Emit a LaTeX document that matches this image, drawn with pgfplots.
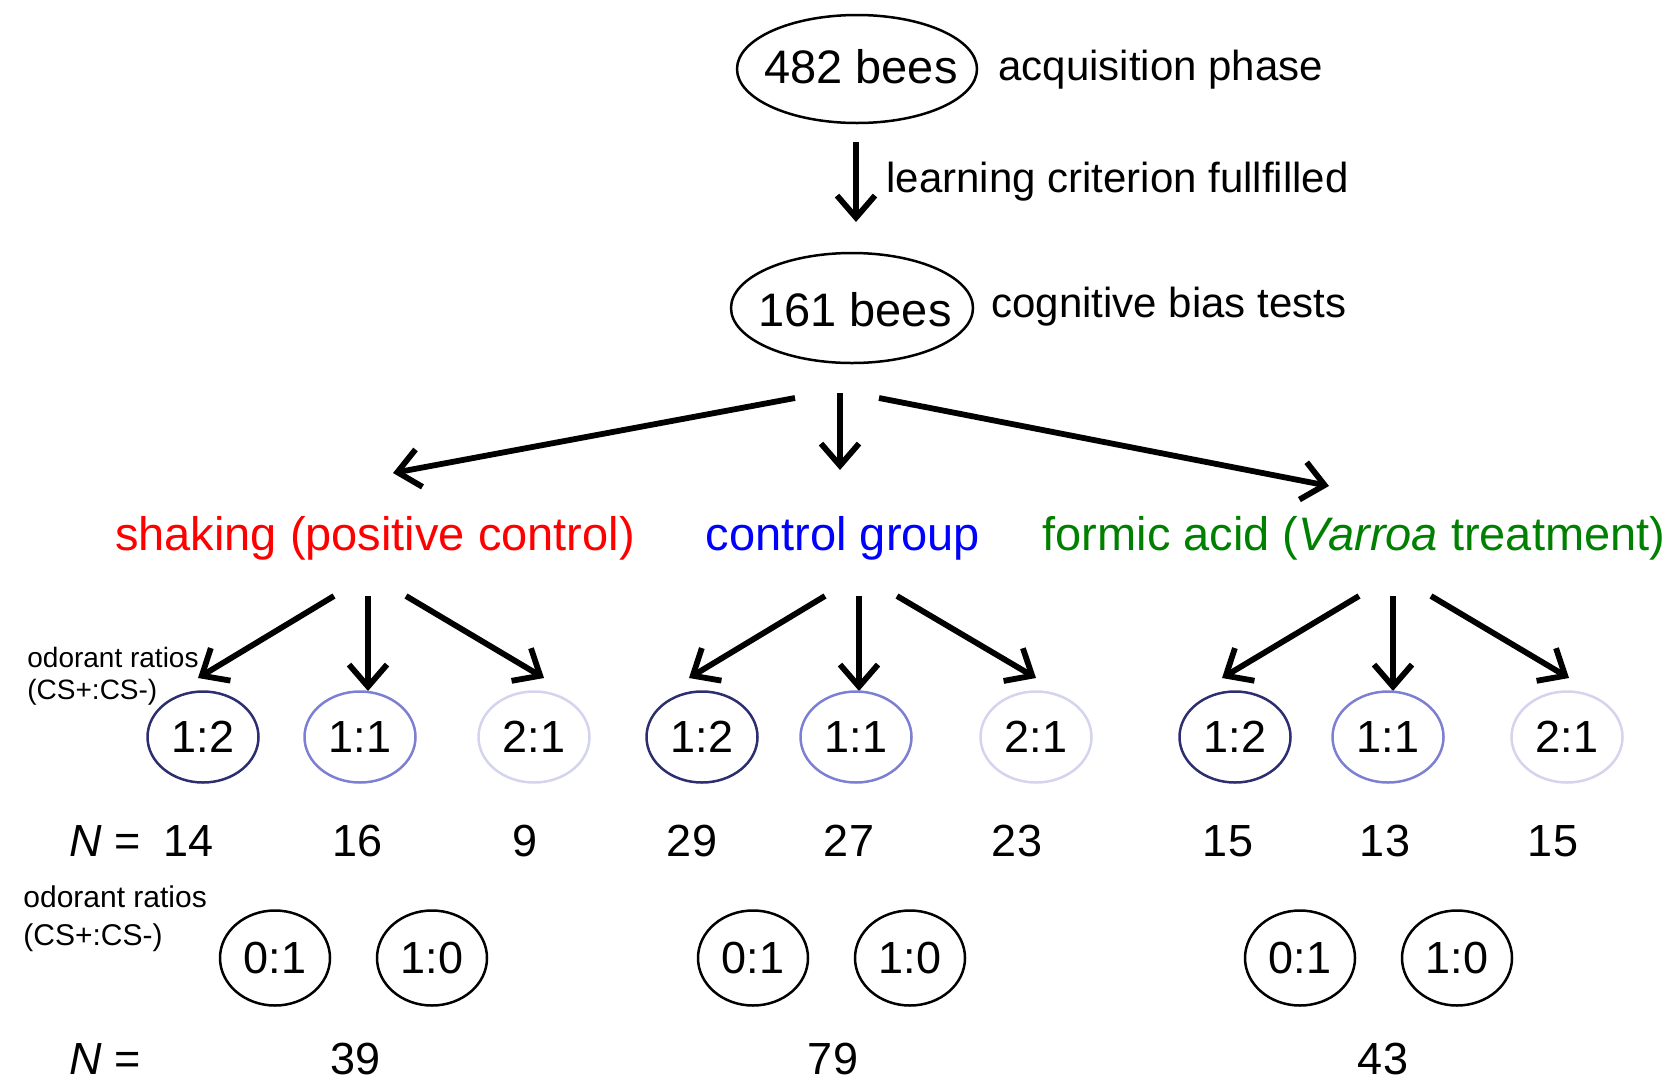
\documentclass[border=0pt]{standalone}
\usepackage{pgfplots}
\pgfplotsset{compat=1.18}
\usepackage{fontspec}
\setmainfont{Liberation Sans}
\usetikzlibrary{shapes.geometric,arrows.meta}
\definecolor{navy}{RGB}{44,46,112}
\definecolor{midblue}{RGB}{125,128,210}
\definecolor{lightblue}{RGB}{212,212,238}
\definecolor{cred}{RGB}{255,0,0}
\definecolor{cblue}{RGB}{0,0,255}
\definecolor{cgreen}{RGB}{0,128,0}
\tikzset{
  arr/.style={line width=2.9pt, -{Straight Barb[length=11pt,width=19pt]}},
  big/.style={font=\fontsize{23.5}{28}\selectfont},
  mid/.style={font=\fontsize{21}{25}\selectfont},
  el/.style={draw, ellipse, line width=1.25pt, inner sep=0pt, outer sep=0pt},
  rat/.style={el, minimum width=55.5pt, minimum height=45.5pt, font=\fontsize{22.5}{26}\selectfont},
  rat2/.style={el, minimum width=55pt, minimum height=47.5pt, font=\fontsize{22.5}{26}\selectfont},
  num/.style={anchor=base, inner sep=0pt, font=\fontsize{22.5}{26}\selectfont},
}
\begin{document}
\begin{tikzpicture}
\begin{axis}[x=0.5pt, y=0.5pt, y dir=reverse, xmin=0, xmax=1674, ymin=0, ymax=1082,
  hide axis, clip=false, scale only axis]
% top part
\node[el, minimum width=120pt, minimum height=54pt] at (axis cs:857,69) {};
\node[big, inner sep=0pt] at (axis cs:861,67) {482 bees};
\node[mid, anchor=base west, inner sep=0pt] at (axis cs:998,80) {acquisition phase};
\addplot[arr] coordinates {(856,142) (856,222)};
\node[mid, anchor=base west, inner sep=0pt] at (axis cs:886,192) {learning criterion fullfilled};
\node[el, minimum width=121pt, minimum height=55pt] at (axis cs:852,308) {};
\node[big, inner sep=0pt] at (axis cs:855,310) {161 bees};
\node[mid, anchor=base west, inner sep=0pt] at (axis cs:991,317) {cognitive bias tests};
% splits to groups
\addplot[arr] coordinates {(795,398) (393,473)};
\addplot[arr] coordinates {(840,393) (840,470)};
\addplot[arr] coordinates {(879,398) (1329,486)};
% group labels
\node[big, anchor=base, inner sep=0pt, text=cred] at (axis cs:375,550) {shaking (positive control)};
\node[big, anchor=base, inner sep=0pt, text=cblue] at (axis cs:843,550) {control group};
\node[big, anchor=base, inner sep=0pt, text=cgreen] at (axis cs:1354,550) {formic acid (\textit{Varroa} treatment)};
% arrows to ratios
\addplot[arr] coordinates {(334,596) (198,678)};
\addplot[arr] coordinates {(368,596) (368,691)};
\addplot[arr] coordinates {(406,596) (544,678)};
\addplot[arr] coordinates {(825,596) (689,678)};
\addplot[arr] coordinates {(859,596) (859,691)};
\addplot[arr] coordinates {(897,596) (1036,678)};
\addplot[arr] coordinates {(1359,596) (1222,678)};
\addplot[arr] coordinates {(1393,596) (1393,691)};
\addplot[arr] coordinates {(1431,596) (1569,678)};
% odorant ratios label 1
\node[anchor=base west, inner sep=0pt, font=\fontsize{14}{16}\selectfont] at (axis cs:27,667) {odorant ratios};
\node[anchor=base west, inner sep=0pt, font=\fontsize{14}{16}\selectfont] at (axis cs:27,699) {(CS+:CS-)};
% ratio ellipses row 1
\node[rat, draw=navy] at (axis cs:203,737) {1:2};
\node[rat, draw=midblue] at (axis cs:360,737) {1:1};
\node[rat, draw=lightblue] at (axis cs:534,737) {2:1};
\node[rat, draw=navy] at (axis cs:702,737) {1:2};
\node[rat, draw=midblue] at (axis cs:856,737) {1:1};
\node[rat, draw=lightblue] at (axis cs:1036,737) {2:1};
\node[rat, draw=navy] at (axis cs:1235,737) {1:2};
\node[rat, draw=midblue] at (axis cs:1388,737) {1:1};
\node[rat, draw=lightblue] at (axis cs:1567,737) {2:1};
% N row 1
\node[anchor=base west, inner sep=0pt, font=\fontsize{22.5}{26}\selectfont] at (axis cs:69,856) {\textit{N} =};
\node[num] at (axis cs:189,856) {14};
\node[num] at (axis cs:358,856) {16};
\node[num] at (axis cs:525,856) {9};
\node[num] at (axis cs:692,856) {29};
\node[num] at (axis cs:849,856) {27};
\node[num] at (axis cs:1017,856) {23};
\node[num] at (axis cs:1228,856) {15};
\node[num] at (axis cs:1385,856) {13};
\node[num] at (axis cs:1553,856) {15};
% odorant ratios label 2
\node[anchor=base west, inner sep=0pt, font=\fontsize{15}{18}\selectfont] at (axis cs:23,907) {odorant ratios};
\node[anchor=base west, inner sep=0pt, font=\fontsize{15}{18}\selectfont] at (axis cs:23,945) {(CS+:CS-)};
% ratio ellipses row 2
\node[rat2] at (axis cs:275,958) {0:1};
\node[rat2] at (axis cs:432,958) {1:0};
\node[rat2] at (axis cs:753,958) {0:1};
\node[rat2] at (axis cs:910,958) {1:0};
\node[rat2] at (axis cs:1300,958) {0:1};
\node[rat2] at (axis cs:1457,958) {1:0};
% N row 2
\node[anchor=base west, inner sep=0pt, font=\fontsize{22.5}{26}\selectfont] at (axis cs:69,1074) {\textit{N} =};
\node[num] at (axis cs:356,1074) {39};
\node[num] at (axis cs:833,1074) {79};
\node[num] at (axis cs:1383,1074) {43};
\end{axis}
\pgfresetboundingbox
\path (current axis.south west) rectangle (current axis.north east);
\end{tikzpicture}
\end{document}
